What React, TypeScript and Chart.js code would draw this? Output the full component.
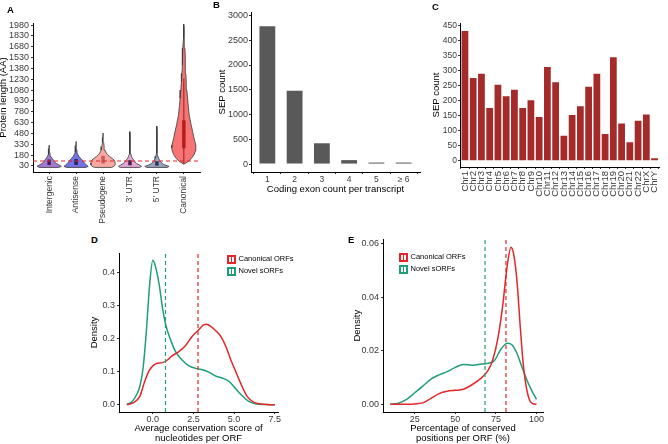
import React, { useEffect, useRef } from 'react';
import { Chart, registerables } from 'chart.js';

Chart.register(...registerables);
Chart.defaults.font.family = '"Liberation Sans", Arial, Helvetica, sans-serif';

// ---------- Panel A: protein length per ORF class ----------
const ORF_CLASSES = ['Intergenic', 'Antisense', 'Pseudogene', "3' UTR", "5' UTR", 'Canonical'];
const CLASS_FILLS = ['#a57ad6', '#7373e6', '#f7a9a1', '#e3a6d3', '#96a3c1', '#f77474'];
const BOX_COLORS = ['#3b1f55', '#2a2260', '#cf5a5a', '#4a2650', '#2c3550', '#b81d1d'];
const LENGTH_TICKS = [30, 180, 330, 480, 630, 780, 930, 1080, 1230, 1380, 1530, 1680, 1830, 1980];
const LENGTH_MIN = -53;
const LENGTH_MAX = 2008;
const SEP_CUTOFF = 100;

// violin outlines: protein length (AA) and relative half-width
const intergenicLen = [10, 25, 45, 65, 85, 110, 135, 160, 190, 230, 270, 320];
const intergenicWidth = [0.8, 1.0, 0.8, 0.6, 0.45, 0.36, 0.25, 0.15, 0.08, 0.04, 0.02, 0];
const antisenseLen = [10, 25, 45, 65, 85, 110, 135, 160, 190, 220, 260, 310, 370];
const antisenseWidth = [0.8, 1.0, 0.85, 0.72, 0.62, 0.52, 0.38, 0.25, 0.15, 0.09, 0.05, 0.02, 0];
const pseudogeneLen = [10, 25, 45, 70, 95, 115, 135, 160, 185, 210, 250, 300, 360, 420, 485];
const pseudogeneWidth = [0.7, 0.9, 1.0, 1.0, 0.97, 0.9, 0.75, 0.55, 0.4, 0.27, 0.16, 0.09, 0.05, 0.02, 0];
const utr3Len = [10, 25, 45, 65, 85, 110, 135, 160, 200, 260, 350, 430, 505];
const utr3Width = [0.8, 0.95, 0.75, 0.55, 0.42, 0.32, 0.2, 0.13, 0.07, 0.04, 0.02, 0.01, 0];
const utr5Len = [10, 25, 45, 65, 85, 110, 135, 165, 210, 280, 380, 480, 580];
const utr5Width = [0.85, 1.0, 0.65, 0.45, 0.32, 0.22, 0.15, 0.09, 0.05, 0.03, 0.015, 0.008, 0];
const canonicalLen = [55, 90, 137, 190, 240, 280, 320, 367, 430, 505, 600, 736, 850, 967, 1080, 1197, 1310, 1429, 1550, 1660, 1800, 1920, 1990];
const canonicalWidth = [0, 0.35, 0.64, 0.85, 0.96, 1.0, 0.98, 0.91, 0.82, 0.73, 0.6, 0.44, 0.37, 0.31, 0.25, 0.2, 0.16, 0.13, 0.11, 0.09, 0.05, 0.02, 0];

const VIOLIN_LEN = [intergenicLen, antisenseLen, pseudogeneLen, utr3Len, utr5Len, canonicalLen];
const VIOLIN_WIDTH = [intergenicWidth, antisenseWidth, pseudogeneWidth, utr3Width, utr5Width, canonicalWidth];
const BOX_Q1 = [45, 45, 65, 40, 35, 275];
const BOX_Q3 = [120, 125, 170, 110, 95, 663];
const BOX_MEDIAN = [75, 78, 110, 68, 60, 436];
const CANONICAL_WHISKER = [60, 1240];

// ---------- Panel B: coding exons per transcript ----------
const EXON_LABELS = ['1', '2', '3', '4', '5', '\u2265 6'];
const EXON_COUNTS = [2780, 1480, 420, 80, 12, 10];
const EXON_TICKS = [0, 500, 1000, 1500, 2000, 2500, 3000];

// ---------- Panel C: SEPs per chromosome ----------
const CHROMOSOMES = ['Chr1', 'Chr2', 'Chr3', 'Chr4', 'Chr5', 'Chr6', 'Chr7', 'Chr8', 'Chr9', 'Chr10', 'Chr11', 'Chr12',
  'Chr13', 'Chr14', 'Chr15', 'Chr16', 'Chr17', 'Chr18', 'Chr19', 'Chr20', 'Chr21', 'Chr22', 'ChrX', 'ChrY'];
const CHROM_COUNTS = [431, 275, 289, 175, 253, 214, 236, 175, 201, 145, 312, 261,
  83, 152, 181, 246, 289, 89, 344, 124, 61, 133, 154, 8];
const CHROM_TICKS = [0, 50, 100, 150, 200, 250, 300, 350, 400, 450];

// ---------- Panel D: average conservation score ----------
const consNovelX = [-1.6, -1.3, -1.0, -0.8, -0.6, -0.4, -0.2, 0.0, 0.15, 0.4, 0.6, 0.8, 1.1, 1.4, 1.8, 2.2, 2.7, 3.1, 3.5, 3.9, 4.3, 4.7, 5.1, 5.5, 5.9, 6.3, 7.0, 7.5];
const consNovelY = [0.001, 0.008, 0.03, 0.055, 0.11, 0.22, 0.36, 0.436, 0.42, 0.36, 0.29, 0.24, 0.195, 0.16, 0.135, 0.118, 0.109, 0.105, 0.097, 0.086, 0.08, 0.07, 0.048, 0.027, 0.01, 0.003, 0.0005, 0];
const consCanonX = [-1.6, -1.2, -0.8, -0.5, -0.2, 0.2, 0.6, 0.9, 1.2, 1.6, 2.0, 2.4, 2.8, 3.1, 3.3, 3.6, 3.9, 4.2, 4.5, 4.8, 5.1, 5.4, 5.8, 6.2, 7.0, 7.5];
const consCanonY = [0, 0.006, 0.025, 0.07, 0.105, 0.124, 0.127, 0.135, 0.148, 0.16, 0.178, 0.205, 0.225, 0.24, 0.243, 0.235, 0.222, 0.205, 0.175, 0.135, 0.1, 0.065, 0.025, 0.008, 0.001, 0];
const CONS_MEAN_NOVEL = 0.78;
const CONS_MEAN_CANON = 2.78;
const CONS_X_TICKS = [0, 2.5, 5, 7.5];
const CONS_Y_TICKS = [0, 0.1, 0.2, 0.3, 0.4];
const CONS_Y_MIN = -0.022;
const CONS_Y_MAX = 0.458;

// ---------- Panel E: percentage of conserved positions ----------
const pctNovelX = [10, 15, 20, 25, 30, 35, 40, 45, 50, 55, 60, 65, 70, 74, 78, 82, 85, 88, 91, 94, 97, 100];
const pctNovelY = [0, 0.0004, 0.0018, 0.0043, 0.0068, 0.0094, 0.011, 0.0122, 0.0138, 0.0149, 0.0146, 0.015, 0.0153, 0.0163, 0.0205, 0.0228, 0.0222, 0.019, 0.014, 0.0092, 0.0052, 0.0018];
const pctCanonX = [10, 20, 25, 30, 35, 40, 45, 50, 55, 60, 65, 70, 73, 76, 79, 82, 84.3, 86, 88, 90, 92, 94, 96, 98, 100];
const pctCanonY = [0, 0, 0.0001, 0.0005, 0.0022, 0.004, 0.0049, 0.0052, 0.0056, 0.0072, 0.0093, 0.0125, 0.0165, 0.024, 0.036, 0.052, 0.0588, 0.056, 0.046, 0.029, 0.014, 0.0055, 0.0012, 0.0002, 0];
const PCT_MEAN_NOVEL = 68.3;
const PCT_MEAN_CANON = 81.2;
const PCT_X_TICKS = [25, 50, 75, 100];
const PCT_Y_TICKS = [0, 0.02, 0.04, 0.06];
const PCT_Y_MIN = -0.0029;
const PCT_Y_MAX = 0.0617;

const RED = '#e3262a';
const GREEN = '#1f9e78';
const TICK_TEXT = '#3a3a3a';

const plain = (v: number) => String(v);

// shared axis look: black axis line, short outward tick marks, no grid
function axis(extra: any) {
  return {
    grid: { display: true, drawOnChartArea: false, drawTicks: true, tickLength: 2, color: '#333', lineWidth: 1 },
    border: { display: true, color: '#000', width: 1 },
    ...extra,
    ticks: { color: TICK_TEXT, font: { size: 9 }, padding: 1, autoSkip: false, callback: plain, ...(extra.ticks || {}) },
  };
}

function fixedTicks(values: number[]) {
  return (ax: any) => {
    ax.ticks = values.map((value) => ({ value }));
  };
}

function title(text: string | string[], extra: any = {}) {
  return { display: true, text, color: '#000', font: { size: 9.5, lineHeight: 1.12 }, padding: { top: 0, bottom: 0 }, ...extra };
}

const baseOptions = {
  animation: false as const,
  responsive: false,
  devicePixelRatio: 1,
  events: [] as any[],
  plugins: { legend: { display: false }, tooltip: { enabled: false } },
};

function violinOutline(center: number, lens: number[], widths: number[]) {
  const half = 0.45;
  const right = lens.map((y, k) => ({ x: center + widths[k] * half, y }));
  const left = lens.map((y, k) => ({ x: center - widths[k] * half, y })).reverse();
  return [...right, ...left, right[0]];
}

function panelA(): any {
  const datasets: any[] = [];
  datasets.push({
    data: [{ x: -0.6, y: SEP_CUTOFF }, { x: 5.6, y: SEP_CUTOFF }],
    borderColor: RED, borderWidth: 1.1, borderDash: [4, 3], pointRadius: 0, fill: false, order: 0,
  });
  ORF_CLASSES.forEach((_, i) => {
    datasets.push({
      data: [{ x: i, y: BOX_MEDIAN[i] }],
      showLine: false, pointRadius: 1.2, pointBackgroundColor: BOX_COLORS[i], pointBorderWidth: 0, order: 1,
    });
    datasets.push({
      data: [{ x: i, y: BOX_Q1[i] }, { x: i, y: BOX_Q3[i] }],
      borderColor: BOX_COLORS[i], borderWidth: 3.5, borderCapStyle: 'butt', pointRadius: 0, fill: false, order: 2,
    });
  });
  datasets.push({
    data: [{ x: 5, y: CANONICAL_WHISKER[0] }, { x: 5, y: CANONICAL_WHISKER[1] }],
    borderColor: '#9a1c1c', borderWidth: 1, pointRadius: 0, fill: false, order: 3,
  });
  ORF_CLASSES.forEach((_, i) => {
    datasets.push({
      data: violinOutline(i, VIOLIN_LEN[i], VIOLIN_WIDTH[i]),
      borderColor: '#3a3a3a', borderWidth: 0.8, backgroundColor: CLASS_FILLS[i],
      fill: 'shape', pointRadius: 0, tension: 0, order: 4,
    });
  });
  return {
    type: 'line',
    data: { datasets },
    options: {
      ...baseOptions,
      layout: { padding: { left: 0, top: 23, right: 5, bottom: 0 } },
      scales: {
        x: axis({
          type: 'linear', min: -0.6, max: 5.6,
          afterBuildTicks: fixedTicks(ORF_CLASSES.map((_, i) => i)),
          afterFit: (ax: any) => { ax.height = 58; },
          ticks: { callback: (v: number) => ORF_CLASSES[v], minRotation: 90, maxRotation: 90, font: { size: 8.5 }, padding: 2 },
        }),
        y: axis({
          type: 'linear', min: LENGTH_MIN, max: LENGTH_MAX,
          afterBuildTicks: fixedTicks(LENGTH_TICKS),
          afterFit: (ax: any) => { ax.width = 33; },
          title: title('Protein length (AA)', { padding: { top: -2, bottom: 0 } }),
          ticks: { font: { size: 9 }, padding: 2 },
        }),
      },
    },
  };
}

function panelB(): any {
  return {
    type: 'bar',
    data: {
      datasets: [{
        data: EXON_COUNTS.map((y, x) => ({ x, y })),
        backgroundColor: '#595959', categoryPercentage: 1, barPercentage: 0.58, minBarLength: 1.5,
      }],
    },
    options: {
      ...baseOptions,
      layout: { padding: { left: 0, top: 12, right: 7, bottom: 0 } },
      scales: {
        x: axis({
          type: 'linear', min: -0.6, max: 5.6, offset: false,
          afterBuildTicks: fixedTicks(EXON_LABELS.map((_, i) => i)),
          afterFit: (ax: any) => { ax.height = 23; },
          title: title('Coding exon count per transcript'),
          ticks: { callback: (v: number) => EXON_LABELS[v], maxRotation: 0, minRotation: 0, font: { size: 8.5 } },
        }),
        y: axis({
          type: 'linear', min: -160, max: 3070,
          afterBuildTicks: fixedTicks(EXON_TICKS),
          afterFit: (ax: any) => { ax.width = 34; },
          title: title('SEP count'),
        }),
      },
    },
  };
}

function panelC(): any {
  return {
    type: 'bar',
    data: {
      datasets: [{
        data: CHROM_COUNTS.map((y, x) => ({ x, y })),
        backgroundColor: '#a52a2a', categoryPercentage: 1, barPercentage: 0.82,
      }],
    },
    options: {
      ...baseOptions,
      layout: { padding: { left: 0, top: 23, right: 1, bottom: 0 } },
      scales: {
        x: axis({
          type: 'linear', min: -0.6, max: 23.6, offset: false,
          afterBuildTicks: fixedTicks(CHROMOSOMES.map((_, i) => i)),
          afterFit: (ax: any) => { ax.height = 63; },
          ticks: { callback: (v: number) => CHROMOSOMES[v], minRotation: 90, maxRotation: 90, font: { size: 9.5 }, padding: 2 },
        }),
        y: axis({
          type: 'linear', min: -21, max: 458,
          afterBuildTicks: fixedTicks(CHROM_TICKS),
          afterFit: (ax: any) => { ax.width = 29; },
          title: title('SEP count'),
          ticks: { font: { size: 8.5 } },
        }),
      },
    },
  };
}

function densityPanel(cfg: any): any {
  const line = (xs: number[], ys: number[], color: string) => ({
    data: xs.map((x, k) => ({ x, y: ys[k] })),
    borderColor: color, borderWidth: 1.5, pointRadius: 0, fill: false,
    cubicInterpolationMode: 'monotone',
  });
  const vline = (x: number, color: string) => ({
    data: [{ x, y: cfg.yMin }, { x, y: cfg.yMax }],
    borderColor: color, borderWidth: 1.2, borderDash: [4, 3], pointRadius: 0, fill: false,
  });
  return {
    type: 'line',
    data: {
      datasets: [
        vline(cfg.meanNovel, GREEN),
        vline(cfg.meanCanon, RED),
        line(cfg.canonX, cfg.canonY, RED),
        line(cfg.novelX, cfg.novelY, GREEN),
      ],
    },
    options: {
      ...baseOptions,
      layout: { padding: { left: 0, top: cfg.padTop, right: cfg.padRight, bottom: 0 } },
      scales: {
        x: axis({
          type: 'linear', min: cfg.xMin, max: cfg.xMax,
          afterBuildTicks: fixedTicks(cfg.xTicks),
          afterFit: (ax: any) => { ax.height = 32; },
          title: title(cfg.xTitle),
          ticks: { callback: cfg.xFormat, maxRotation: 0, minRotation: 0, padding: 0 },
        }),
        y: axis({
          type: 'linear', min: cfg.yMin, max: cfg.yMax,
          afterBuildTicks: fixedTicks(cfg.yTicks),
          afterFit: (ax: any) => { ax.width = cfg.yWidth; },
          title: title('Density'),
          ticks: { callback: cfg.yFormat, padding: 2 },
        }),
      },
    },
  };
}

function panelD(): any {
  return densityPanel({
    novelX: consNovelX, novelY: consNovelY, canonX: consCanonX, canonY: consCanonY,
    meanNovel: CONS_MEAN_NOVEL, meanCanon: CONS_MEAN_CANON,
    xMin: -2.08, xMax: 7.7, yMin: CONS_Y_MIN, yMax: CONS_Y_MAX,
    xTicks: CONS_X_TICKS, yTicks: CONS_Y_TICKS,
    xFormat: (v: number) => v.toFixed(1), yFormat: (v: number) => v.toFixed(1),
    xTitle: ['Average conservation score of', 'nucleotides per ORF'],
    padTop: 8, padRight: 11, yWidth: 30,
  });
}

function panelE(): any {
  return densityPanel({
    novelX: pctNovelX, novelY: pctNovelY, canonX: pctCanonX, canonY: pctCanonY,
    meanNovel: PCT_MEAN_NOVEL, meanCanon: PCT_MEAN_CANON,
    xMin: 5.5, xMax: 104, yMin: PCT_Y_MIN, yMax: PCT_Y_MAX,
    xTicks: PCT_X_TICKS, yTicks: PCT_Y_TICKS,
    xFormat: (v: number) => String(v), yFormat: (v: number) => v.toFixed(2),
    xTitle: ['Percentage of conserved', 'positions per ORF (%)'],
    padTop: 4, padRight: 9, yWidth: 31,
  });
}

function ChartCanvas({ left, top, width, height, build }: { left: number; top: number; width: number; height: number; build: () => any }) {
  const ref = useRef<HTMLCanvasElement | null>(null);
  useEffect(() => {
    if (!ref.current) return;
    const chart = new Chart(ref.current, build());
    return () => chart.destroy();
  }, []);
  return (
    <canvas ref={ref} width={width} height={height}
      style={{ position: 'absolute', left, top, width, height }} />
  );
}

function PanelLetter({ text, left, top }: { text: string; left: number; top: number }) {
  return (
    <span style={{ position: 'absolute', left, top, fontSize: 9.5, lineHeight: '10px', fontWeight: 'bold', color: '#000' }}>
      {text}
    </span>
  );
}

function LegendKey({ color, label, left, top }: { color: string; label: string; left: number; top: number }) {
  return (
    <div style={{ position: 'absolute', left, top, display: 'flex', alignItems: 'center', height: 10 }}>
      <div style={{ width: 9, height: 9, boxSizing: 'border-box', border: `2px solid ${color}`, background: '#fff', position: 'relative' }}>
        <div style={{ position: 'absolute', left: 1.5, top: 0, width: 0, height: 5, borderLeft: `1.2px dashed ${color}` }} />
      </div>
      <span style={{ marginLeft: 2.5, fontSize: 7.5, lineHeight: '10px', color: '#000' }}>{label}</span>
    </div>
  );
}

export default function App() {
  return (
    <div style={{
      position: 'fixed', left: 0, top: 0, width: 668, height: 444, background: '#fff', overflow: 'hidden',
      fontFamily: '"Liberation Sans", Arial, Helvetica, sans-serif',
    }}>
      <ChartCanvas left={0} top={0} width={205} height={230} build={panelA} />
      <ChartCanvas left={217} top={0} width={210} height={195} build={panelB} />
      <ChartCanvas left={431} top={0} width={237} height={230} build={panelC} />
      <ChartCanvas left={89} top={245} width={200} height={199} build={panelD} />
      <ChartCanvas left={352} top={232} width={200} height={212} build={panelE} />

      <PanelLetter text="A" left={7} top={5} />
      <PanelLetter text="B" left={213} top={0} />
      <PanelLetter text="C" left={432} top={2} />
      <PanelLetter text="D" left={91} top={235} />
      <PanelLetter text="E" left={348} top={235} />

      <LegendKey color={RED} label="Canonical ORFs" left={227} top={254} />
      <LegendKey color={GREEN} label="Novel sORFs" left={227} top={266} />
      <LegendKey color={RED} label="Canonical ORFs" left={399} top={252} />
      <LegendKey color={GREEN} label="Novel sORFs" left={399} top={264} />
    </div>
  );
}
